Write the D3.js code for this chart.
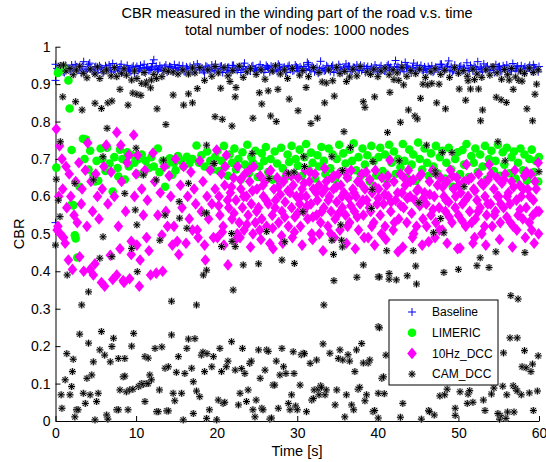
<!DOCTYPE html>
<html>
<head>
<meta charset="utf-8">
<script src="https://cdn.jsdelivr.net/npm/d3@7"></script>
<style>
  body { margin: 0; background: #fff; }
  svg text { font-family: "Liberation Sans", Arial, Helvetica, sans-serif; fill: #000; }
</style>
</head>
<body>
<div id="chart"></div>
<script>
// [time (s), CBR] pairs
const baseline = [
  [0,.953],[0,.91],[0,.53],
  [0.2,.942],[0.5,.936],[0.8,.948],[1.1,.931],[1.4,.944],[1.7,.939],[2.0,.951],[2.3,.934],[2.6,.946],[2.9,.940],
  [3.2,.929],[3.5,.960],[3.8,.937],[4.1,.952],[4.4,.941],[4.7,.933],[5.0,.947],[5.3,.938],[5.6,.944],[5.9,.930],
  [6.2,.949],[6.5,.936],[6.8,.943],[7.1,.955],[7.4,.935],[7.7,.941],[8.0,.946],[8.3,.932],[8.6,.939],[8.9,.950],
  [9.2,.937],[9.5,.944],[9.8,.928],[10.1,.947],[10.4,.940],[10.7,.934],[11.0,.953],[11.3,.942],[11.6,.936],[11.9,.945],
  [12.2,.965],[12.5,.948],[12.8,.939],[13.1,.943],[13.4,.935],[13.7,.951],[14.0,.938],[14.3,.946],[14.6,.933],[14.9,.941],
  [15.2,.944],[15.5,.937],[15.8,.949],[16.1,.932],[16.4,.942],[16.7,.947],[17.0,.935],[17.3,.940],[17.6,.954],[17.9,.938],
  [18.2,.943],[18.5,.930],[18.8,.946],[19.1,.939],[19.4,.951],[19.7,.936],[20.0,.942],[20.3,.934],[20.6,.948],[20.9,.941],
  [21.2,.937],[21.5,.945],[21.8,.933],[22.1,.950],[22.4,.940],[22.7,.944],[23.0,.931],[23.3,.947],[23.6,.938],[23.9,.942],
  [24.2,.935],[24.5,.949],[24.8,.941],[25.1,.936],[25.4,.952],[25.7,.943],[26.0,.939],[26.3,.946],[26.6,.932],[26.9,.944],
  [27.2,.940],[27.5,.934],[27.8,.948],[28.1,.938],[28.4,.945],[28.7,.931],[29.0,.950],[29.3,.942],[29.6,.937],[29.9,.946],
  [30.2,.933],[30.5,.941],[30.8,.947],[31.1,.939],[31.4,.953],[31.7,.936],[32.0,.944],[32.3,.940],[32.6,.929],[32.9,.961],
  [33.2,.942],[33.5,.937],[33.8,.945],[34.1,.934],[34.4,.950],[34.7,.941],[35.0,.938],[35.3,.946],[35.6,.932],[35.9,.943],
  [36.2,.939],[36.5,.947],[36.8,.935],[37.1,.944],[37.4,.951],[37.7,.940],[38.0,.936],[38.3,.948],[38.6,.942],[38.9,.933],
  [39.2,.946],[39.5,.938],[39.8,.943],[40.1,.930],[40.4,.949],[40.7,.941],[41.0,.937],[41.3,.952],[41.6,.945],[41.9,.934],
  [42.2,.963],[42.5,.947],[42.8,.936],[43.1,.942],[43.4,.958],[43.7,.948],[44.0,.939],[44.3,.944],[44.6,.935],[44.9,.950],
  [45.2,.943],[45.5,.938],[45.8,.946],[46.1,.932],[46.4,.941],[46.7,.949],[47.0,.936],[47.3,.944],[47.6,.940],[47.9,.953],
  [48.2,.934],[48.5,.945],[48.8,.962],[49.1,.947],[49.4,.937],[49.7,.942],[50.0,.930],[50.3,.948],[50.6,.943],[50.9,.936],
  [51.2,.941],[51.5,.950],[51.8,.935],[52.1,.944],[52.4,.960],[52.7,.946],[53.0,.933],[53.3,.942],[53.6,.948],[53.9,.938],
  [54.2,.945],[54.5,.931],[54.8,.940],[55.1,.947],[55.4,.936],[55.7,.943],[56.0,.951],[56.3,.939],[56.6,.934],[56.9,.946],
  [57.2,.942],[57.5,.937],[57.8,.949],[58.1,.941],[58.4,.935],[58.7,.944],[59.0,.938],[59.3,.952],[59.6,.940],[59.9,.933],
  [0.35,.938],[0.65,.946],[0.95,.933],[1.25,.950],[1.55,.941],[1.85,.935],[2.15,.944],[2.45,.952],[2.75,.937],[3.05,.943],
  [3.35,.947],[3.65,.934],[3.95,.940],[4.25,.956],[4.55,.936],[4.85,.945],[5.15,.931],[5.45,.949],[5.75,.942],[6.05,.938],
  [6.35,.944],[6.65,.951],[6.95,.932],[7.25,.940],[7.55,.947],[7.85,.937],[8.15,.953],[8.45,.935],[8.75,.943],[9.05,.939],
  [9.35,.933],[9.65,.948],[9.95,.942],[10.25,.936],[10.55,.950],[10.85,.944],[11.15,.930],[11.45,.946],[11.75,.939],[12.05,.955],
  [12.35,.941],[12.65,.935],[12.95,.949],[13.25,.938],[13.55,.945],[13.85,.932],[14.15,.947],[14.45,.943],[14.75,.952],[15.05,.936],
  [15.35,.950],[15.65,.939],[15.95,.934],[16.25,.946],[16.55,.931],[16.85,.943],[17.15,.951],[17.45,.937],[17.75,.945],[18.05,.940],
  [18.35,.936],[18.65,.948],[18.95,.942],[19.25,.933],[19.55,.944],[19.85,.953],[20.15,.938],[20.45,.947],[20.75,.931],[21.05,.945],
  [21.35,.944],[21.65,.932],[21.95,.950],[22.25,.941],[22.55,.937],[22.85,.946],[23.15,.940],[23.45,.956],[23.75,.935],[24.05,.943],
  [24.35,.947],[24.65,.938],[24.95,.933],[25.25,.945],[25.55,.939],[25.85,.931],[26.15,.950],[26.45,.942],[26.75,.948],[27.05,.936],
  [27.35,.941],[27.65,.953],[27.95,.937],[28.25,.944],[28.55,.932],[28.85,.947],[29.15,.939],[29.45,.935],[29.75,.951],[30.05,.943],
  [30.35,.946],[30.65,.936],[30.95,.942],[31.25,.958],[31.55,.938],[31.85,.948],[32.15,.933],[32.45,.945],[32.75,.940],[33.05,.937],
  [33.35,.935],[33.65,.949],[33.95,.940],[34.25,.946],[34.55,.931],[34.85,.944],[35.15,.952],[35.45,.937],[35.75,.941],[36.05,.954],
  [36.35,.948],[36.65,.933],[36.95,.945],[37.25,.939],[37.55,.936],[37.85,.950],[38.15,.942],[38.45,.931],[38.75,.947],[39.05,.940],
  [39.35,.937],[39.65,.951],[39.95,.934],[40.25,.944],[40.55,.940],[40.85,.935],[41.15,.949],[41.45,.941],[41.75,.938],[42.05,.946],
  [42.35,.944],[42.65,.939],[42.95,.952],[43.25,.933],[43.55,.945],[43.85,.941],[44.15,.930],[44.45,.956],[44.75,.943],[45.05,.937],
  [45.35,.950],[45.65,.936],[45.95,.941],[46.25,.947],[46.55,.938],[46.85,.932],[47.15,.945],[47.45,.939],[47.75,.953],[48.05,.944],
  [48.35,.940],[48.65,.948],[48.95,.937],[49.25,.933],[49.55,.951],[49.85,.939],[50.15,.946],[50.45,.935],[50.75,.942],[51.05,.957],
  [51.35,.936],[51.65,.943],[51.95,.947],[52.25,.939],[52.55,.932],[52.85,.941],[53.15,.954],[53.45,.945],[53.75,.937],[54.05,.944],
  [54.35,.939],[54.65,.952],[54.95,.946],[55.25,.934],[55.55,.949],[55.85,.938],[56.15,.942],[56.45,.936],[56.75,.955],[57.05,.941],
  [57.35,.948],[57.65,.940],[57.95,.933],[58.25,.946],[58.55,.943],[58.85,.950],[59.15,.935],[59.45,.944],[59.75,.939],[60.0,.947]
];

const limeric = [
  [0.3,.93],[0.5,.937],[0.8,.94],[1.0,.945],[0.1,.677],[1.6,.91],[1.75,.835],[2.0,.578],[2.0,.724],[2.4,.496],[2.5,.488],[2.7,.437],[2.2,.576],
  [3.0,.626],[3.4,.754],[3.8,.752],[3.6,.70],[4.1,.672],[4.3,.722],[4.7,.655],[4.9,.64],[5.1,.695],[5.3,.642],[5.6,.728],[5.8,.70],
  [6.2,.668],[6.4,.73],[6.7,.688],[7.1,.613],[7.3,.705],[7.7,.676],[7.8,.653],[8.0,.725],[8.3,.70],[8.6,.645],[8.9,.718],[9.1,.68],
  [9.5,.71],[9.8,.69],[10.1,.66],[10.3,.70],[10.7,.712],[11.0,.665],[11.2,.695],[11.6,.676],[11.9,.705],[12.2,.68],[12.7,.728],
  [12.9,.665],[13.3,.695],[13.6,.626],[13.8,.684],[14.2,.702],[14.5,.658],[14.7,.69],[14.9,.67],[15.2,.708],[15.6,.695],[15.9,.68],
  [16.3,.706],[16.6,.688],[17.0,.70],[17.5,.736],[17.8,.69],[18.1,.71],[18.5,.68],[18.8,.72],[19.2,.695],[19.5,.672],
  [19.8,.705],[20.1,.722],[20.3,.668],[20.6,.695],[20.9,.735],[21.1,.68],[21.4,.655],[21.6,.712],[21.9,.69],[22.2,.728],[22.4,.672],
  [22.7,.70],[23.0,.645],[23.2,.718],[23.5,.685],[23.8,.738],[24.0,.662],[24.3,.705],[24.5,.69],[24.8,.722],[25.1,.652],[25.3,.68],
  [25.6,.715],[25.9,.695],[26.1,.732],[26.4,.665],[26.7,.70],[26.9,.645],[27.2,.72],[27.5,.688],[27.8,.639],[28.0,.73],[28.2,.675],
  [28.5,.65],[28.8,.712],[29.0,.692],[29.3,.735],[29.6,.66],[29.8,.70],[30.1,.682],[30.3,.725],[30.6,.655],[30.9,.705],[31.1,.74],
  [31.4,.672],[31.7,.717],[31.9,.69],[32.2,.648],[32.5,.71],[32.7,.68],[33.0,.732],[33.3,.695],[33.5,.66],[33.9,.728],[34.1,.675],
  [34.4,.712],[34.7,.645],[34.9,.70],[35.2,.738],[35.5,.668],[35.7,.715],[36.0,.688],[36.3,.65],[36.5,.725],[36.8,.695],[37.0,.742],
  [37.3,.67],[37.6,.705],[37.9,.655],[38.1,.728],[38.4,.685],[38.7,.71],[39.0,.64],[39.2,.735],[39.5,.695],[39.8,.656],
  [40.1,.705],[40.3,.73],[40.6,.668],[40.9,.712],[41.1,.645],[41.4,.738],[41.7,.69],[42.0,.72],[42.2,.66],[42.5,.70],[42.8,.678],
  [43.1,.74],[43.3,.695],[43.6,.65],[43.9,.725],[44.2,.685],[44.4,.712],[44.7,.642],[45.0,.744],[45.2,.70],[45.5,.672],[45.8,.728],
  [46.1,.69],[46.3,.655],[46.6,.715],[46.9,.68],[47.2,.735],[47.4,.662],[47.7,.705],[48.0,.722],[48.3,.648],[48.5,.69],[48.8,.73],
  [49.1,.672],[49.3,.626],[49.6,.70],[49.9,.718],[50.2,.66],[50.5,.724],[50.7,.685],[51.0,.74],[51.3,.652],[51.6,.708],[51.9,.69],
  [52.1,.728],[52.4,.665],[52.7,.712],[53.0,.68],[53.3,.735],[53.5,.645],[53.8,.70],[54.1,.722],[54.4,.668],[54.6,.695],[54.9,.738],
  [55.2,.655],[55.5,.718],[55.7,.685],[56.0,.73],[56.3,.662],[56.6,.705],[56.9,.72],[57.1,.648],[57.4,.69],[57.7,.728],[58.0,.67],
  [58.2,.712],[58.5,.642],[58.8,.70],[59.1,.725],[59.4,.665],[59.6,.695],[59.9,.64],[60.0,.705]
];

const dcc10hz = [
  [0.1,.78],[0.2,.51],[0.3,.52],[0.4,.60],[0.5,.735],[0.6,.50],[0.8,.70],[0.9,.62],[1.0,.49],[1.2,.475],[1.3,.68],[1.4,.57],
  [1.6,.43],[1.7,.66],[1.9,.60],[2.1,.405],[2.3,.55],[2.5,.64],[2.7,.53],[2.9,.69],
  [3.0,.439],[3.2,.58],[3.3,.62],[3.5,.40],[3.7,.67],[3.9,.52],[4.0,.743],[4.3,.405],[4.4,.64],[4.6,.56],[4.7,.39],[4.9,.42],
  [5.0,.66],[5.2,.60],[5.4,.54],[5.7,.37],[5.8,.62],[6.0,.68],[6.1,.36],
  [6.3,.737],[6.5,.58],[6.8,.443],[6.9,.665],[7.1,.378],[7.3,.60],[7.6,.771],[7.6,.39],[7.8,.52],[8.0,.46],[8.1,.737],[8.2,.64],
  [8.4,.375],[8.5,.37],[8.7,.56],[8.9,.69],[9.1,.71],[9.2,.38],[9.4,.48],[9.4,.445],[9.7,.764],[9.8,.60],[10.0,.66],[10.1,.47],
  [10.2,.71],[10.4,.36],[10.5,.43],[10.7,.62],[10.9,.55],[11.1,.67],[11.3,.49],[11.4,.59],[11.6,.455],[11.8,.39],[12.1,.716],
  [12.3,.64],[12.5,.395],[12.7,.55],[13.0,.61],[13.2,.497],[13.3,.40],[13.5,.68],[13.7,.56],[13.9,.52],[14.1,.655],[14.3,.60],
  [14.5,.47],[14.7,.52],[14.9,.70],[15.1,.48],
  [15.3,.445],[15.5,.63],[15.7,.57],[15.9,.68],[16.2,.475],[16.4,.60],[16.6,.54],[16.8,.665],[17.0,.51],[17.2,.62],[17.4,.58],
  [17.6,.51],[17.7,.49],[17.9,.695],[18.1,.56],[18.3,.64],[18.5,.47],[18.6,.43],[18.8,.60],[19.0,.54],[19.2,.67],[19.4,.58],
  [19.6,.49],[19.8,.62],
  [20.0,.724],[20.1,.49],[20.3,.60],[20.4,.55],[20.6,.66],[20.8,.52],[21.0,.63],[21.2,.71],[21.4,.417],[21.5,.57],[21.7,.61],
  [21.9,.54],[22.1,.65],[22.3,.483],[22.4,.59],[22.6,.68],[22.8,.53],[23.0,.62],[23.2,.57],[23.4,.51],[23.5,.66],[23.7,.60],
  [23.9,.55],[24.1,.64],[24.3,.58],[24.5,.50],[24.6,.68],[24.8,.53],[25.0,.62],[25.2,.57],[25.4,.655],[25.6,.54],[25.8,.60],
  [26.0,.64],[26.2,.52],[26.4,.58],[26.6,.474],[26.7,.67],[26.9,.55],[27.1,.62],[27.3,.59],[27.5,.65],[27.7,.53],[27.9,.605],
  [28.1,.56],[28.3,.64],[28.5,.585],[28.7,.66],[28.9,.52],[29.1,.61],[29.3,.57],[29.5,.63],[29.7,.545],[29.9,.60],
  [30.1,.65],[30.3,.58],[30.4,.52],[30.6,.62],[30.8,.56],[31.0,.67],[31.1,.60],[31.3,.54],[31.5,.64],[31.7,.58],[31.8,.50],
  [32.0,.62],[32.2,.66],[32.4,.55],[32.5,.59],[32.7,.63],[32.9,.53],[33.1,.61],[33.3,.57],[33.4,.675],[33.6,.64],[33.8,.52],
  [34.0,.60],[34.2,.56],[34.3,.65],[34.5,.62],[34.7,.54],[34.9,.585],[35.1,.66],[35.3,.51],[35.4,.63],[35.6,.57],[35.8,.61],
  [36.0,.55],[36.2,.65],[36.4,.595],[36.5,.53],[36.7,.67],[36.9,.62],[37.1,.56],[37.3,.60],[37.5,.64],[37.6,.51],[37.8,.58],
  [38.0,.66],[38.2,.55],[38.4,.62],[38.6,.59],[38.8,.49],[39.0,.645],[39.1,.56],[39.3,.61],[39.5,.53],[39.7,.67],[39.9,.58],
  [40.1,.62],[40.3,.55],[40.5,.65],[40.7,.58],[40.9,.52],[41.1,.63],[41.3,.60],[41.5,.697],[41.6,.56],[41.9,.51],[42.0,.64],
  [42.2,.59],[42.5,.452],[42.6,.54],[42.8,.66],[43.0,.61],[43.2,.57],[43.4,.63],[43.6,.53],[43.8,.67],[44.0,.60],[44.2,.555],
  [44.4,.645],[44.6,.59],[44.8,.52],[45.0,.62],[45.2,.575],[45.4,.66],[45.6,.54],[45.8,.61],[46.0,.58],[46.3,.479],[46.4,.64],
  [46.6,.55],[46.8,.67],[47.0,.60],[47.2,.53],[47.4,.63],[47.6,.57],[47.8,.65],[48.0,.51],[48.2,.60],[48.4,.56],[48.6,.64],
  [48.8,.585],[49.0,.67],[49.2,.53],[49.4,.62],[49.6,.57],[49.8,.65],
  [50.0,.55],[50.2,.462],[50.3,.61],[50.5,.58],[50.7,.64],[50.9,.52],[51.0,.685],[51.2,.60],[51.4,.56],[51.6,.65],[51.8,.475],
  [51.9,.62],[52.1,.54],[52.3,.59],[52.5,.66],[52.7,.57],[52.9,.50],[53.1,.63],[53.3,.60],[53.5,.55],[53.7,.645],[53.8,.685],
  [54.0,.58],[54.2,.52],[54.4,.62],[54.6,.56],[54.8,.65],[55.0,.60],[55.2,.53],[55.4,.635],[55.6,.57],[55.8,.66],[56.0,.545],
  [56.2,.61],[56.4,.58],[56.6,.64],[56.8,.52],[57.0,.67],[57.2,.59],[57.4,.55],[57.6,.63],[57.8,.60],[58.0,.54],[58.2,.655],
  [58.4,.57],[58.6,.62],[58.8,.53],[59.0,.66],[59.1,.51],[59.3,.59],[59.5,.64],[59.7,.56],[59.9,.69],[60.0,.56],
  [20.25,.575],[20.7,.505],[21.05,.68],[21.35,.59],[21.85,.625],[22.15,.555],[22.55,.5],[22.95,.645],[23.35,.6],[23.75,.525],
  [24.05,.67],[24.45,.615],[24.95,.56],[25.35,.51],[25.75,.63],[26.15,.59],[26.55,.665],[26.95,.515],[27.25,.57],[27.65,.625],
  [28.05,.495],[28.45,.545],[28.85,.615],[29.25,.655],[29.65,.505],[30.05,.555],[30.45,.6],[30.85,.635],[31.25,.575],[31.55,.665],
  [31.95,.545],[32.35,.61],[32.75,.5],[33.05,.56],[33.45,.62],[33.85,.59],[34.15,.5],[34.55,.655],[34.85,.625],[35.15,.555],
  [35.55,.6],[35.95,.665],[36.25,.52],[36.65,.575],[37.05,.61],[37.45,.545],[37.85,.635],[38.15,.59],[38.55,.665],[38.95,.57],
  [39.25,.52],[39.65,.625],[40.05,.595],[40.45,.5],[40.85,.605],[41.25,.655],[41.65,.585],[42.05,.53],[42.45,.61],[42.85,.575],
  [43.25,.65],[43.65,.595],[44.05,.64],[44.45,.5],[44.85,.615],[45.25,.655],[45.65,.595],[46.05,.52],[46.45,.605],[46.85,.565],
  [47.25,.66],[47.65,.51],[48.05,.625],[48.45,.59],[48.85,.545],[49.25,.655],[49.65,.6],[50.05,.63],[50.45,.535],[50.85,.59],
  [51.25,.645],[51.65,.53],[52.05,.615],[52.45,.56],[52.85,.635],[53.25,.52],[53.65,.58],[54.05,.66],[54.45,.55],[54.85,.6],
  [55.25,.58],[55.65,.645],[56.05,.6],[56.45,.53],[56.85,.625],[57.25,.51],[57.65,.565],[58.05,.62],[58.45,.665],[58.85,.6],
  [59.25,.55],[59.65,.62],[59.95,.5],
  [20.9,.47],[22.9,.49],[24.2,.465],[25.5,.485],[27.0,.46],[28.2,.475],[29.4,.49],[30.6,.47],[31.9,.485],[33.2,.455],
  [34.6,.49],[36.1,.475],[37.2,.46],[38.3,.49],[39.6,.47],[41.0,.485],[43.1,.465],[44.3,.49],[45.5,.47],[47.1,.49],
  [48.6,.475],[49.9,.46],[52.0,.49],[53.4,.47],[55.1,.485],[56.7,.465],[58.3,.49],[59.4,.475]
];

const camDcc = [
  // upper band, 0-20 s
  [0.6,.95],[1.0,.951],[1.3,.935],[1.8,.942],[2.2,.925],[2.6,.938],[3.0,.948],[3.45,.929],[3.9,.917],[4.3,.94],[4.9,.927],
  [5.2,.946],[5.5,.915],[6.0,.933],[6.35,.938],[6.9,.922],[7.3,.944],[7.6,.92],[8.2,.929],[8.5,.941],[8.8,.924],[9.45,.911],
  [9.8,.935],[10.1,.915],[10.7,.902],[11.0,.931],[11.3,.906],[11.9,.911],[12.2,.926],[12.55,.915],[13.2,.92],[13.6,.937],
  [14.0,.934],[14.6,.932],[15.2,.927],[15.8,.938],[16.5,.927],[17.0,.943],[17.3,.93],[17.9,.944],[18.5,.91],[18.9,.938],
  [19.4,.921],[19.8,.947],
  [0.9,.866],[2.5,.853],[3.3,.831],[4.9,.849],[5.7,.835],[6.4,.782],[6.5,.85],[7.0,.855],[9.0,.844],[8.0,.886],[9.6,.876],
  [10.1,.873],[10.6,.87],[11.2,.9],[11.8,.89],[12.6,.834],[13.7,.792],[14.6,.871],[15.9,.844],[16.5,.874],[17.6,.888],[17.0,.85],
  // middle, 0-20 s
  [0.6,.746],[5.9,.706],[10.0,.729],[0.1,.646],[4.7,.644],[8.6,.608],[9.9,.564],[10.1,.524],[13.4,.697],[12.5,.644],[13.6,.55],
  [15.4,.542],[15.35,.586],[16.3,.515],[16.5,.635],[10.9,.657],[18.5,.555],[18.75,.737],[19.6,.688],[2.4,.635],[0.35,.59],
  [0.56,.546],[0.0,.47],[5.9,.492],[1.45,.39],[5.5,.435],[7.0,.439],[9.45,.461],[10.15,.399],[12.95,.483],[18.35,.39],
  [18.75,.403],[3.25,.31],[4.1,.345],[14.4,.32],[17.5,.31],
  // lower band, 0-20 s
  [0.8,.034],[0.7,.07],[1.2,.11],[1.4,.18],[1.8,.07],[2.0,.092],[2.1,.132],[2.2,.165],[2.4,.011],[2.6,.03],[2.8,.03],[3.0,.232],
  [3.45,.074],[3.7,.047],[3.9,.114],[4.1,.208],[4.3,.07],[4.5,.123],[4.7,.158],[4.9,.003],[5.1,.052],[5.3,.074],[5.5,.19],
  [5.7,.239],[6.1,.176],[6.35,.016],[6.5,.005],[6.8,.158],[7.0,.199],[7.2,.221],[7.6,.03],[7.8,.03],[8.0,.083],[7.8,.167],
  [8.4,.118],[8.6,.12],[8.6,.167],[8.8,.078],[9.0,.03],[9.2,.083],[9.45,.2],[9.6,.085],[9.7,.234],[10.3,.092],[10.5,.095],
  [10.7,.1],[10.9,.098],[11.1,.172],[11.3,.1],[11.5,.1],[11.1,.052],[11.5,.168],[11.7,.123],[11.9,.11],[12.35,.194],[12.55,.025],
  [12.75,.025],[12.9,.083],[13.2,.198],[13.6,.141],[14.0,.145],[13.8,.027],[14.0,.027],[14.4,.23],[14.6,.074],[14.8,.054],
  [15.0,.13],[15.25,.172],[15.65,.074],[15.85,.003],[16.05,.127],[16.3,.194],[16.5,.219],[16.9,.141],[17.1,.105],[17.1,.02],
  [17.3,.22],[17.5,.08],[17.9,.065],[18.1,.176],[18.3,.184],[18.5,.132],[18.75,.007],
  // 20-40 s
  [20.2,.93],[20.9,.944],[21.4,.922],[22.0,.936],[22.8,.948],[23.3,.918],[23.8,.933],[24.2,.941],[24.9,.926],[25.5,.938],
  [26.0,.913],[26.9,.935],[27.3,.949],[27.9,.927],[28.4,.938],[28.8,.915],[29.4,.942],[30.3,.924],[30.7,.936],[31.4,.92],
  [32.0,.944],[32.7,.931],[33.1,.906],[33.6,.903],[33.9,.938],[34.4,.909],[34.9,.945],[35.3,.928],[35.9,.934],[36.5,.919],
  [36.9,.94],[37.4,.922],[37.8,.947],[38.7,.932],[39.1,.926],[39.5,.94],
  [20.5,.889],[21.65,.907],[22.4,.891],[22.3,.866],[25.3,.877],[25.6,.847],[26.4,.882],[27.6,.886],[29.0,.86],[30.1,.829],
  [31.1,.891],[19.8,.813],[20.7,.806],[21.9,.788],[24.5,.809],[26.7,.815],[27.4,.8],[31.7,.795],[32.5,.809],[33.4,.85],
  [34.6,.868],[35.8,.773],[38.2,.853],[38.4,.838],[36.1,.907],[39.6,.866],
  [24.4,.715],[19.7,.688],[30.8,.706],[30.9,.68],[28.9,.662],[29.6,.665],[26.5,.648],[34.3,.706],[35.6,.669],[36.6,.731],
  [18.75,.556],[30.7,.559],[35.4,.524],[39.4,.693],[39.3,.619],[39.2,.568],
  [20.6,.466],[21.85,.501],[21.9,.48],[22.3,.466],[23.3,.417],[25.2,.42],[26.2,.506],[28.1,.43],[28.45,.479],[29.65,.421],
  [34.3,.483],[34.5,.445],[35.5,.483],[35.6,.465],[38.2,.417],[37.4,.384],[34.55,.375],[22.05,.35],[33.3,.31],
  [18.8,.18],[19.1,.03],[19.6,.172],[19.4,.145],[20.0,.003],[20.2,.056],[20.4,.194],[20.6,.132],[20.8,.047],[21.0,.05],
  [21.2,.145],[21.4,.16],[21.85,.212],[22.3,.136],[22.7,.043],[22.9,.074],[23.1,.14],[23.2,.194],[23.5,.127],[23.7,.052],
  [23.9,.083],[24.1,.154],[24.3,.16],[24.5,.03],[24.75,.011],[24.9,.056],[25.2,.19],[25.4,.114],[25.6,.034],[25.75,.03],
  [26.0,.136],[26.2,.19],[26.4,.186],[26.6,.005],[26.8,.008],[27.0,.096],[27.2,.096],[27.4,.16],[27.65,.034],[27.85,.123],
  [28.1,.194],[28.3,.145],[28.6,.127],[28.9,.047],[29.1,.03],[29.3,.07],[29.5,.185],[29.6,.127],[29.8,.04],[30.0,.03],
  [30.35,.096],[30.5,.177],[30.75,.181],[30.9,.18],[31.15,.025],[31.6,.154],[31.8,.056],[32.0,.06],[32.1,.083],[32.4,.163],
  [32.7,.07],[32.6,.085],[32.9,.094],[33.0,.09],[33.2,.206],[33.45,.07],[33.6,.083],[34.05,.181],[34.7,.043],[34.9,.083],
  [35.1,.167],[35.3,.19],[35.65,.163],[35.9,.011],[36.1,.07],[36.3,.177],[36.5,.16],[36.75,.043],[37.0,.03],[37.15,.132],
  [37.35,.19],[37.55,.085],[37.75,.09],[38.0,.207],[38.2,.155],[38.4,.054],[38.6,.07],[38.8,.155],[39.0,.163],[39.4,.025],
  [39.6,.028],[40.05,.385],[40.05,.252],[40.05,.008],
  // 40-60 s
  [40.4,.935],[40.9,.943],[41.4,.925],[41.9,.938],[42.4,.93],[43.0,.945],[43.6,.921],[44.1,.936],[44.7,.928],[45.2,.94],
  [45.9,.918],[46.6,.933],[47.1,.941],[47.8,.926],[48.3,.937],[48.9,.918],[49.5,.944],[50.0,.929],[50.6,.936],[51.1,.921],
  [51.8,.94],[52.3,.927],[52.9,.918],[53.4,.938],[53.9,.924],[54.3,.947],[54.8,.93],[55.7,.939],[56.1,.925],[56.6,.942],
  [57.1,.919],[57.7,.935],[58.2,.928],[58.8,.943],[59.3,.931],[59.9,.938],
  [41.5,.878],[41.2,.771],[42.8,.798],[43.8,.831],[44.6,.815],[44.9,.807],[45.3,.862],[45.6,.9],[46.2,.898],[46.7,.902],
  [47.6,.9],[47.3,.85],[48.4,.834],[50.1,.887],[50.9,.857],[51.5,.887],[52.5,.887],[51.2,.909],[52.0,.912],[54.7,.865],
  [55.3,.858],[55.95,.851],[53.0,.831],[52.75,.802],[55.35,.913],[56.3,.911],[56.8,.886],[57.5,.91],[57.9,.908],[58.5,.834],
  [59.2,.802],[59.5,.873],[59.7,.9],[43.2,.898],[42.0,.912],[42.6,.91],[40.0,.92],
  [46.05,.737],[48.0,.717],[49.2,.717],[54.9,.746],[42.65,.695],[47.1,.668],[47.2,.66],[55.8,.695],[60.0,.666],[45.1,.583],
  [50.7,.626],[47.8,.541],[46.9,.503],[48.2,.503],[41.1,.455],[44.4,.455],[52.7,.436],[58.25,.45],[54.65,.452],[44.7,.414],
  [52.3,.415],[53.8,.41],[50.0,.405],[48.2,.397],[40.2,.385],[41.4,.394],[41.4,.379],[42.3,.377],[43.65,.388],[44.8,.366],
  [56.5,.335],[57.4,.326],
  [40.2,.249],[41.0,.176],[40.5,.114],[40.7,.118],[40.05,.074],[40.8,.073],[42.8,.01],[43.1,.047],[45.4,.005],[46.3,.028],
  [46.4,.025],[47.0,.016],[47.7,.067],[48.3,.07],[48.6,.085],[49.6,.034],[49.6,.015],[50.2,.078],[51.2,.072],[51.4,.081],
  [51.1,.047],[51.8,.05],[53.1,.056],[53.3,.028],[54.1,.072],[55.1,.005],[55.2,.015],[54.9,.02],[55.9,.007],[56.1,.024],
  [56.9,.024],[55.5,.093],[56.8,.094],[57.1,.087],[57.3,.08],[57.8,.07],[58.8,.075],[59.8,.08],[59.3,.028],[56.0,.07],
  [54.4,.088],[56.4,.222],[57.3,.222],[55.6,.182],[58.2,.188],[57.9,.145],[58.4,.142],[59.2,.152],[59.0,.132],[59.9,.174]
];

const seriesNames = ['Baseline', 'LIMERIC', '10Hz_DCC', 'CAM_DCC'];
const xTicks = [0, 10, 20, 30, 40, 50, 60];
const yTicks = [0, 0.1, 0.2, 0.3, 0.4, 0.5, 0.6, 0.7, 0.8, 0.9, 1];

const width = 546, height = 462;

const svg = d3.select('#chart')
    .append('svg')
    .attr('width', width)
    .attr('height', height);

const x = d3.scaleLinear().domain([0, 60]).range([55.5, 539]);
const y = d3.scaleLinear().domain([0, 1]).range([421, 46.7]);

// axes (matlab style: ticks inside, no box)
svg.append('g')
    .attr('transform', `translate(0,${y(0)})`)
    .call(d3.axisBottom(x).tickValues(xTicks).tickFormat(d3.format('d'))
        .tickSizeInner(-5).tickSizeOuter(0).tickPadding(7))
    .call(g => g.selectAll('text').style('font-size', '14px'));

svg.append('g')
    .attr('transform', `translate(${x(0)},0)`)
    .call(d3.axisLeft(y).tickValues(yTicks).tickFormat(d => String(d))
        .tickSizeInner(-5).tickSizeOuter(0).tickPadding(5))
    .call(g => g.selectAll('text').style('font-size', '14px'));

svg.selectAll('.domain, .tick line').attr('stroke', '#000');

// marker shapes
const plusPath = 'M-4,0H4M0,-4V4';
const starPath = 'M-3.5,0H3.5M0,-3.5V3.5M-2.6,-2.6L2.6,2.6M-2.6,2.6L2.6,-2.6';
const diamondPath = 'M0,-5.8L4.8,0L0,5.8L-4.8,0Z';

const series = [
  {name: seriesNames[0], data: baseline, draw: g => g.append('path').attr('d', plusPath).attr('stroke', '#0000ff').attr('stroke-width', 1).attr('fill', 'none')},
  {name: seriesNames[1], data: limeric, draw: g => g.append('circle').attr('r', 4.3).attr('fill', '#00ff00')},
  {name: seriesNames[2], data: dcc10hz, draw: g => g.append('path').attr('d', diamondPath).attr('fill', '#ff00ff')},
  {name: seriesNames[3], data: camDcc, draw: g => {
    g.append('path').attr('d', starPath).attr('stroke', '#999').attr('stroke-width', 2.4).attr('fill', 'none').attr('opacity', 0.6);
    g.append('path').attr('d', starPath).attr('stroke', '#000').attr('stroke-width', 1).attr('fill', 'none');
  }}
];

series.forEach(s => {
  svg.append('g')
      .selectAll('g')
      .data(s.data)
      .join('g')
      .attr('transform', d => `translate(${x(d[0])},${y(d[1])})`)
      .each(function() { s.draw(d3.select(this)); });
});

// title and labels
const title = svg.append('text')
    .attr('text-anchor', 'middle')
    .style('font-size', '14.5px');
title.append('tspan').attr('x', 297).attr('y', 18).text('CBR measured in the winding part of the road v.s. time');
title.append('tspan').attr('x', 297).attr('y', 35).text('total number of nodes: 1000 nodes');

svg.append('text')
    .attr('x', 297).attr('y', 456)
    .attr('text-anchor', 'middle')
    .style('font-size', '14.5px')
    .text('Time [s]');

svg.append('text')
    .attr('transform', `translate(24,${(y(0) + y(1)) / 2}) rotate(-90)`)
    .attr('text-anchor', 'middle')
    .style('font-size', '14.5px')
    .text('CBR');

// legend
const legend = svg.append('g').attr('transform', 'translate(389,300)');
legend.append('rect')
    .attr('width', 109).attr('height', 85)
    .attr('fill', '#fff').attr('stroke', '#000').attr('stroke-width', 1);

series.forEach((s, i) => {
  const row = legend.append('g').attr('transform', `translate(0,${12 + i * 20.7})`);
  s.draw(row.append('g').attr('transform', 'translate(23,0)'));
  row.append('text')
      .attr('x', 43).attr('y', 0).attr('dy', '0.35em')
      .style('font-size', '12px')
      .text(s.name);
});
</script>
</body>
</html>
